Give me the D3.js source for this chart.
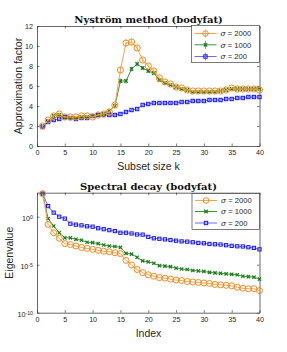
<!DOCTYPE html>
<html><head><meta charset="utf-8">
<script src="https://cdn.jsdelivr.net/npm/d3@7"></script>
<style>
html,body{margin:0;padding:0;background:#fff;}
svg{display:block;}
</style></head>
<body>
<script>
// ---------- DATA ----------
const subsetSizes = d3.range(1, 41);
const sigmaLabels = ["2000", "1000", "200"];
const approx2000 = [2.0,2.6,3.0,3.2,2.9,2.9,2.9,3.0,3.0,2.9,3.1,3.2,3.4,4.1,7.6,10.3,10.4,9.8,8.6,8.0,7.5,6.8,6.4,6.2,5.9,5.8,5.6,5.5,5.5,5.5,5.5,5.5,5.5,5.6,5.8,5.7,5.7,5.7,5.7,5.6];
const approx1000 = [2.0,2.5,3.0,3.1,2.8,2.8,2.8,2.9,2.9,3.0,3.1,3.2,3.5,4.0,6.5,6.5,7.7,8.2,7.8,7.5,7.3,6.6,6.3,6.1,5.9,5.7,5.6,5.4,5.4,5.4,5.4,5.4,5.5,5.6,5.7,5.7,5.7,5.7,5.7,5.7];
const approx200  = [1.9,2.4,2.6,2.7,2.9,2.8,2.7,2.8,2.8,3.0,3.1,3.1,3.1,3.1,3.2,3.4,3.6,3.7,4.1,4.2,4.3,4.3,4.3,4.3,4.3,4.4,4.4,4.5,4.5,4.5,4.6,4.6,4.6,4.7,4.7,4.8,4.8,4.9,4.9,4.9];
const err2000 = [0.1,0.1,0.15,0.15,0.1,0.1,0.1,0.1,0.1,0.1,0.1,0.1,0.15,0.2,0.3,0.35,0.35,0.3,0.25,0.2,0.2,0.15,0.15,0.1,0.1,0.1,0.1,0.1,0.1,0.1,0.1,0.1,0.1,0.1,0.1,0.1,0.1,0.1,0.1,0.1];
const err1000 = [0.1,0.1,0.15,0.15,0.1,0.1,0.1,0.1,0.1,0.1,0.1,0.1,0.15,0.2,0.25,0.25,0.25,0.25,0.2,0.2,0.2,0.15,0.15,0.1,0.1,0.1,0.1,0.1,0.1,0.1,0.1,0.1,0.1,0.1,0.1,0.1,0.1,0.1,0.1,0.1];
const err200  = [0.1,0.1,0.1,0.1,0.1,0.1,0.1,0.1,0.1,0.1,0.1,0.1,0.1,0.1,0.1,0.1,0.1,0.1,0.1,0.1,0.1,0.1,0.1,0.1,0.1,0.1,0.1,0.1,0.1,0.1,0.1,0.1,0.1,0.1,0.1,0.1,0.1,0.1,0.1,0.1];

const eigIndex = d3.range(1, 41);
// eigenvalues stored as log10 exponents
const eigLog2000 = [2.4,-0.8,-1.67,-2.25,-2.8,-2.9,-3.05,-3.2,-3.3,-3.4,-3.5,-3.6,-3.65,-3.75,-3.85,-4.55,-5.03,-5.5,-5.83,-6.05,-6.2,-6.35,-6.4,-6.5,-6.6,-6.65,-6.75,-6.8,-6.85,-6.9,-6.95,-7.05,-7.1,-7.15,-7.2,-7.35,-7.45,-7.5,-7.5,-7.7];
const eigLog1000 = [2.4,-0.2,-0.97,-1.67,-2.2,-2.2,-2.36,-2.45,-2.66,-2.7,-2.8,-2.95,-3.05,-3.1,-3.2,-3.82,-3.9,-4.23,-4.6,-4.7,-4.85,-5.1,-5.15,-5.2,-5.35,-5.45,-5.5,-5.6,-5.65,-5.7,-5.8,-5.85,-5.9,-5.95,-6.0,-6.05,-6.2,-6.25,-6.3,-6.5];
const eigLog200  = [2.4,1.1,0.42,0.0,-0.2,-0.73,-0.83,-0.9,-1.0,-1.04,-1.2,-1.3,-1.4,-1.5,-1.67,-1.67,-1.75,-1.85,-1.87,-2.1,-2.25,-2.3,-2.36,-2.43,-2.5,-2.57,-2.6,-2.66,-2.73,-2.77,-2.84,-2.87,-2.9,-2.97,-3.04,-3.08,-3.1,-3.18,-3.25,-3.4];

const xTicks = [0,5,10,15,20,25,30,35,40];
const yTicksTop = [0,2,4,6,8,10,12];
const yTicksBottom = [1e-10, 1e-5, 1e0];
const yTickBottomExp = ["-10", "-5", "0"];

// ---------- STYLE ----------
const W = 287, H = 352;
const axisColor = "#262626";
const series = [
  {label: sigmaLabels[0], line: "#f9a34a", mark: "#f58b1f", shape: "circle"},
  {label: sigmaLabels[1], line: "#3a983a", mark: "#1c7a1c", shape: "x"},
  {label: sigmaLabels[2], line: "#6b6bff", mark: "#1515ff", shape: "square"}
];
const svg = d3.select("body").append("svg").attr("width", W).attr("height", H);
const sans = "'Liberation Sans', Arial, sans-serif";
const serif = "'DejaVu Serif', serif";

const x0 = 37, x1 = 259.5;

function drawMarker(g, shape, cx, cy, color, size) {
  if (shape === "circle") {
    g.append("circle").attr("cx", cx).attr("cy", cy).attr("r", size)
      .attr("fill", "none").attr("stroke", color).attr("stroke-width", 1);
  } else if (shape === "square") {
    g.append("rect").attr("x", cx - size*0.7).attr("y", cy - size*0.7)
      .attr("width", size*1.4).attr("height", size*1.4)
      .attr("fill", "none").attr("stroke", color).attr("stroke-width", 1);
  } else {
    const s = size*0.72;
    g.append("path").attr("d", `M${cx-s},${cy-s}L${cx+s},${cy+s}M${cx-s},${cy+s}L${cx+s},${cy-s}`)
      .attr("stroke", color).attr("stroke-width", 1.2).attr("fill", "none");
  }
}

function frame(g, x, y, yAxisBottomFn, yAxisTopFn, yTop, yBot) {
  const bottom = g.append("g").attr("transform", `translate(0,${yBot})`)
    .call(d3.axisBottom(x).tickValues(xTicks).tickSizeInner(-2.5).tickSizeOuter(0).tickPadding(4));
  const top = g.append("g").attr("transform", `translate(0,${yTop})`)
    .call(d3.axisTop(x).tickValues(xTicks).tickSizeInner(-2.5).tickSizeOuter(0).tickFormat(""));
  const left = g.append("g").attr("transform", `translate(${x0},0)`).call(yAxisBottomFn);
  const right = g.append("g").attr("transform", `translate(${x1},0)`).call(yAxisTopFn);
  [bottom, top, left, right].forEach(a => {
    a.selectAll("path.domain").attr("stroke", axisColor).attr("stroke-width", 0.7);
    a.selectAll(".tick line").attr("stroke", axisColor).attr("stroke-width", 0.6);
    a.selectAll(".tick text").attr("fill", axisColor).attr("font-family", sans).attr("font-size", 7.2);
  });
  return {bottom, left};
}

function legend(g, lx, ly, w, h, rowYs, withErr) {
  g.append("rect").attr("x", lx).attr("y", ly).attr("width", w).attr("height", h)
    .attr("fill", "#fff").attr("stroke", axisColor).attr("stroke-width", 0.6);
  series.forEach((s, i) => {
    const yy = rowYs[i];
    g.append("line").attr("x1", lx + 3).attr("x2", lx + 25).attr("y1", yy).attr("y2", yy)
      .attr("stroke", s.line).attr("stroke-width", 1);
    if (withErr) {
      g.append("line").attr("x1", lx + 14).attr("x2", lx + 14).attr("y1", yy - 4).attr("y2", yy + 4)
        .attr("stroke", s.line).attr("stroke-width", 0.8);
    }
    drawMarker(g, s.shape, lx + 14, yy, s.mark, s.shape === "circle" ? 2.8 : 2.4);
    const t = g.append("text").attr("x", lx + 29).attr("y", yy + 2.7)
      .attr("font-family", sans).attr("font-size", 7.6).attr("fill", axisColor);
    t.append("tspan").attr("font-style", "italic").attr("font-family", serif).text("σ");
    t.append("tspan").text(" = " + s.label);
  });
}

// ---------- TOP CHART ----------
{
  const yTop = 26, yBot = 146;
  const g = svg.append("g");
  const x = d3.scaleLinear().domain([0, 40]).range([x0, x1]);
  const y = d3.scaleLinear().domain([0, 12]).range([yBot, yTop]);
  frame(g, x, y,
    d3.axisLeft(y).tickValues(yTicksTop).tickSizeInner(-2.5).tickSizeOuter(0).tickPadding(4),
    d3.axisRight(y).tickValues(yTicksTop).tickSizeInner(-2.5).tickSizeOuter(0).tickFormat(""),
    yTop, yBot);

  const datasets = [approx2000, approx1000, approx200];
  const errs = [err2000, err1000, err200];
  const drawOrder = [2, 1, 0];
  drawOrder.forEach(si => {
    const s = series[si];
    const vals = datasets[si];
    const pts = subsetSizes.map((k, i) => [k, vals[i], errs[si][i]]);
    g.append("path").datum(pts)
      .attr("d", d3.line().x(d => x(d[0])).y(d => y(d[1])))
      .attr("fill", "none").attr("stroke", s.line).attr("stroke-width", 1);
    const mg = g.append("g");
    pts.forEach(d => {
      mg.append("line").attr("x1", x(d[0])).attr("x2", x(d[0]))
        .attr("y1", y(d[1] - d[2])).attr("y2", y(d[1] + d[2]))
        .attr("stroke", s.line).attr("stroke-width", 0.8);
      drawMarker(mg, s.shape, x(d[0]), y(d[1]), s.mark, s.shape === "circle" ? 3.1 : 2.4);
    });
  });

  g.append("text").attr("x", 148.5).attr("y", 22.5).attr("text-anchor", "middle")
    .attr("font-family", serif).attr("font-weight", "bold").attr("font-size", 10).attr("fill", "#111")
    .text("Nyström method (bodyfat)");
  g.append("text").attr("x", 148.5).attr("y", 169.5).attr("text-anchor", "middle")
    .attr("font-family", sans).attr("font-size", 10.5).attr("fill", axisColor).text("Subset size k");
  g.append("text").attr("transform", `translate(22,86) rotate(-90)`).attr("text-anchor", "middle")
    .attr("font-family", sans).attr("font-size", 10.5).attr("fill", axisColor).text("Approximation factor");

  legend(g, 191.5, 25.5, 68, 37, [33.5, 44.8, 56.5], true);
}

// ---------- BOTTOM CHART ----------
{
  const yTop = 192.7, yBot = 312.7;
  const g = svg.append("g");
  const x = d3.scaleLinear().domain([0, 40]).range([x0, x1]);
  const y = d3.scaleLog().domain([1e-10, Math.pow(10, 2.5)]).range([yBot, yTop]);
  const ax = frame(g, x, y,
    d3.axisLeft(y).tickValues(yTicksBottom).tickSizeInner(-2.5).tickSizeOuter(0).tickPadding(4).tickFormat(() => "10"),
    d3.axisRight(y).tickValues(yTicksBottom).tickSizeInner(-2.5).tickSizeOuter(0).tickFormat(""),
    yTop, yBot);
  ax.left.selectAll(".tick text").each(function(d, i) {
    const t = d3.select(this);
    t.attr("dy", "0.55em");
    t.text("10");
    t.append("tspan").attr("dy", "-0.5em").attr("font-size", 5.2).text(yTickBottomExp[i]);
  });

  const datasets = [eigLog2000, eigLog1000, eigLog200];
  const drawOrder = [2, 1, 0];
  drawOrder.forEach(si => {
    const s = series[si];
    const pts = eigIndex.map((k, i) => [k, Math.pow(10, datasets[si][i])]);
    g.append("path").datum(pts)
      .attr("d", d3.line().x(d => x(d[0])).y(d => y(d[1])))
      .attr("fill", "none").attr("stroke", s.line).attr("stroke-width", 1);
    const mg = g.append("g");
    pts.forEach(d => drawMarker(mg, s.shape, x(d[0]), y(d[1]), s.mark, s.shape === "circle" ? 3.0 : 2.3));
  });

  g.append("text").attr("x", 148.5).attr("y", 189.5).attr("text-anchor", "middle")
    .attr("font-family", serif).attr("font-weight", "bold").attr("font-size", 10).attr("fill", "#111")
    .text("Spectral decay (bodyfat)");
  g.append("text").attr("x", 148.5).attr("y", 337).attr("text-anchor", "middle")
    .attr("font-family", sans).attr("font-size", 10.5).attr("fill", axisColor).text("Index");
  g.append("text").attr("transform", `translate(13,252.7) rotate(-90)`).attr("text-anchor", "middle")
    .attr("font-family", sans).attr("font-size", 10.5).attr("fill", axisColor).text("Eigenvalue");

  legend(g, 192, 193.5, 67.5, 36, [200.5, 211.5, 223], false);
}
</script>
</body></html>
